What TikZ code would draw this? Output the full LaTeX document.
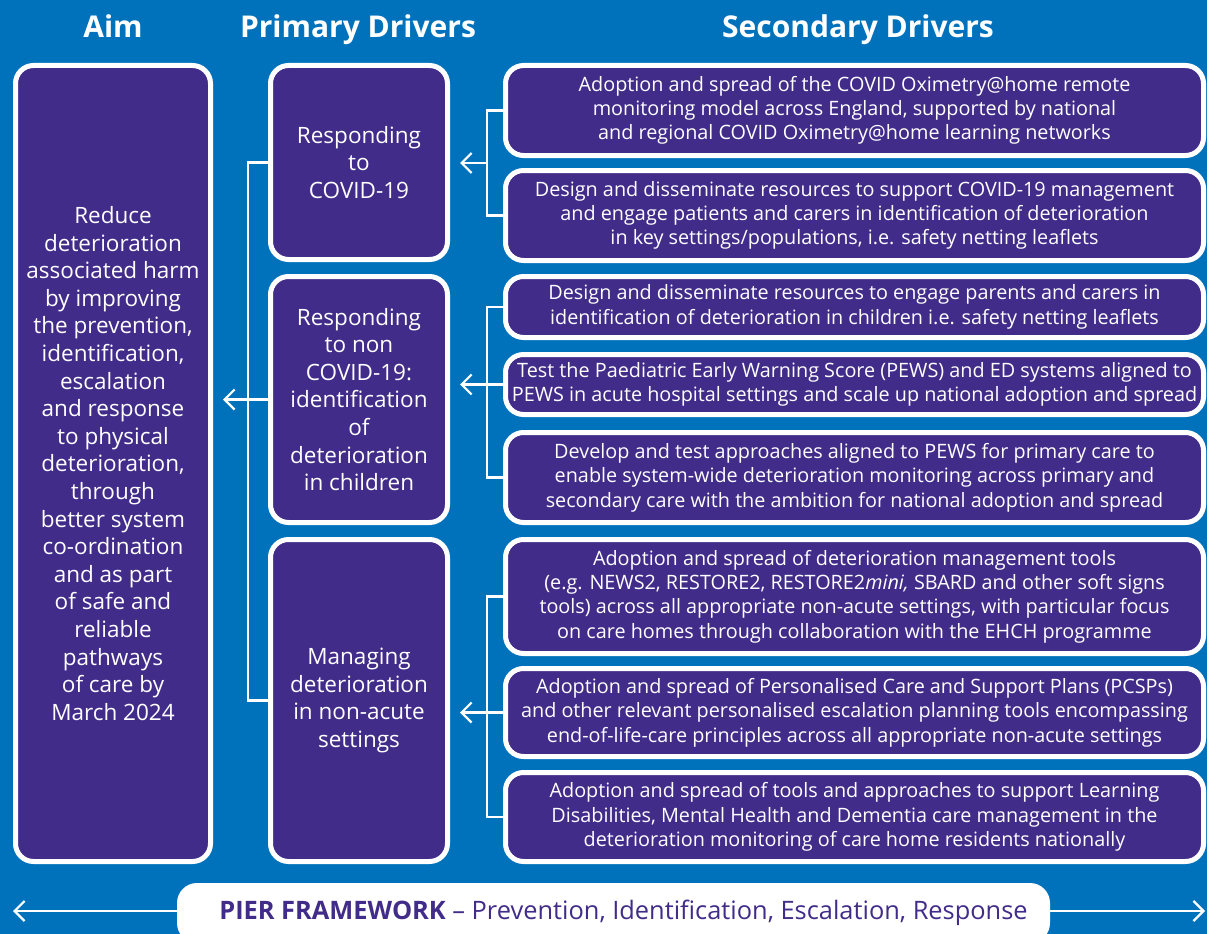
\documentclass[tikz,border=0pt]{standalone}
\usepackage{fontspec}
\setmainfont{Open Sans}
\usetikzlibrary{arrows.meta,calc}
\definecolor{bgblue}{RGB}{0,114,188}
\definecolor{nhspurple}{RGB}{65,44,138}
\begin{document}
\begin{tikzpicture}[x=1pt,y=-1pt,
  box/.style={draw=white, line width=5pt, fill=nhspurple, rounded corners=18pt, text=white, align=center, inner sep=0pt},
  conn/.style={draw=white, line width=2.2pt},
  arr/.style={conn, -{Straight Barb[length=10pt,width=20pt]}},
  head/.style={text=white, anchor=base, font=\fontsize{30}{36}\selectfont\bfseries},
  bigtxt/.style={font=\fontsize{22.5}{27.6}\selectfont},
  smalltxt/.style={font=\fontsize{19.8}{24.3}\selectfont},
  sec/.style={box, smalltxt, minimum width=698pt}]
\useasboundingbox (0,0) rectangle (1207,934);
\fill[bgblue] (0,0) rectangle (1207,934);

\node[head] (hAim) at (113,38) {Aim};
\node[head] (hPri) at (358,38) {Primary Drivers};
\node[head] (hSec) at (858,38) {Secondary Drivers};

\node[box, bigtxt, minimum width=195pt, minimum height=796pt] (aim) at (113,463.5)
 {Reduce\\deterioration\\associated harm\\by improving\\the prevention,\\identification,\\escalation\\and response\\to physical\\deterioration,\\through\\better system\\co-ordination\\and as part\\of safe and\\reliable\\pathways\\of care by\\March 2024};

\node[box, bigtxt, minimum width=177pt, minimum height=194pt] (P1) at (359,162.5)
 {Responding\\to\\COVID-19};
\node[box, bigtxt, minimum width=177pt, minimum height=246pt] (P2) at (359,399.5)
 {Responding\\to non\\COVID-19:\\identification\\of\\deterioration\\in children};
\node[box, bigtxt, minimum width=177pt, minimum height=322pt] (P3) at (359,700.5)
 {Managing\\deterioration\\in non-acute\\settings};

\node[sec, minimum height=90pt] (S1) at (854.5,110.5)
 {Adoption and spread of the COVID Oximetry@home remote\\monitoring model across England, supported by national\\and regional COVID Oximetry@home learning networks};
\node[sec, minimum height=90pt] (S2) at (854.5,215.5)
 {Design and disseminate resources to support COVID-19 management\\and engage patients and carers in identification of deterioration\\in key settings/populations, i.e. safety netting leaflets};
\node[sec, minimum height=61pt] (S3) at (854.5,307)
 {Design and disseminate resources to engage parents and carers in\\identification of deterioration in children i.e. safety netting leaflets};
\node[sec, minimum height=60pt] (S4) at (854.5,384.5)
 {Test the Paediatric Early Warning Score (PEWS) and ED systems aligned to\\PEWS in acute hospital settings and scale up national adoption and spread};
\node[sec, minimum height=90pt] (S5) at (854.5,477.5)
 {Develop and test approaches aligned to PEWS for primary care to\\enable system-wide deterioration monitoring across primary and\\secondary care with the ambition for national adoption and spread};
\node[sec, minimum height=114pt] (S6) at (854.5,596.5)
 {Adoption and spread of deterioration management tools\\(e.g. NEWS2, RESTORE2, RESTORE2\textit{mini,} SBARD and other soft signs\\tools) across all appropriate non-acute settings, with particular focus\\on care homes through collaboration with the EHCH programme};
\node[sec, minimum height=88pt] (S7) at (854.5,712.5)
 {Adoption and spread of Personalised Care and Support Plans (PCSPs)\\and other relevant personalised escalation planning tools encompassing\\end-of-life-care principles across all appropriate non-acute settings};
\node[sec, minimum height=89pt] (S8) at (854.5,817)
 {Adoption and spread of tools and approaches to support Learning\\Disabilities, Mental Health and Dementia care management in the\\deterioration monitoring of care home residents nationally};

% secondary -> primary
\draw[conn] (S1.west) -- ++(-16,0) |- (S2.west);
\coordinate (j1) at ($(S1.west)!0.5!(S2.west)+(-16,0)$);
\draw[arr] (j1) -- ([xshift=10pt]P1.east |- j1);
\draw[conn] (S3.west) -- ++(-16,0) |- (S5.west);
\draw[arr] (S4.west) -- ([xshift=10pt]P2.east |- S4.west);
\draw[conn] (S6.west) -- ++(-16,0) |- (S8.west);
\draw[arr] (S7.west) -- ([xshift=10pt]P3.east |- S7.west);

% primary -> aim
\draw[conn] (P1.west) -- ++(-20,0) |- (P3.west);
\draw[arr] (P2.west) -- ([xshift=10pt]aim.east |- P2.west);

% PIER framework bar
\node[fill=white, rounded corners=20pt, minimum width=873pt, minimum height=60pt, inner sep=0pt,
      text=nhspurple, font=\fontsize{25.4}{30}\selectfont] (pier) at (613.5,913)
 {\hspace*{20pt}\textbf{PIER FRAMEWORK} -- Prevention, Identification, Escalation, Response};
\coordinate (lend) at (13,911);
\coordinate (rend) at (1205,911);
\draw[arr] (pier.west |- lend) -- (lend);
\draw[arr] (pier.east |- rend) -- (rend);
\end{tikzpicture}
\end{document}
